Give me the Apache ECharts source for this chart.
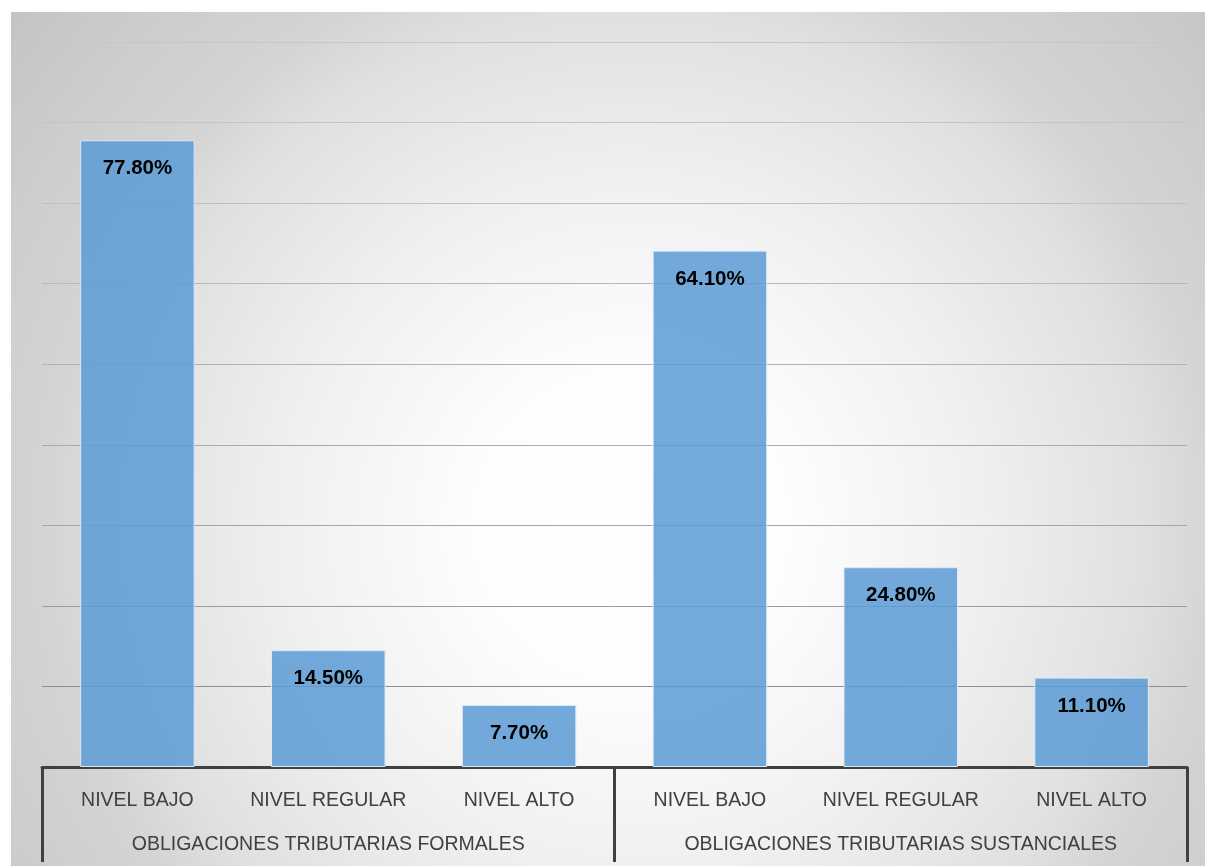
<!DOCTYPE html>
<html><head><meta charset="utf-8">
<script src="https://cdn.jsdelivr.net/npm/echarts@6/dist/echarts.min.js"></script>
<style>
html,body{margin:0;padding:0;background:#fff;width:1205px;height:866px;overflow:hidden}
#c{position:absolute;left:11px;top:12px;width:1194px;height:854px}
</style></head>
<body><div id="c"></div>
<script>
const categories = ['NIVEL BAJO','NIVEL REGULAR','NIVEL ALTO','NIVEL BAJO','NIVEL REGULAR','NIVEL ALTO'];
const groups = ['OBLIGACIONES TRIBUTARIAS FORMALES','OBLIGACIONES TRIBUTARIAS SUSTANCIALES'];
const values = [77.8, 14.5, 7.7, 64.1, 24.8, 11.1];

const chart = echarts.init(document.getElementById('c'));
const font = '"Liberation Sans", Arial, sans-serif';
chart.setOption({
  animation: false,
  backgroundColor: {
    type: 'radial', x: 0.52, y: 0.6, r: 0.94,
    colorStops: [
      {offset: 0, color: '#ffffff'}, {offset: 0.2, color: '#fdfdfd'},
      {offset: 0.43, color: '#f0f0f0'}, {offset: 0.64, color: '#e0e0e0'},
      {offset: 0.73, color: '#d4d4d4'}, {offset: 0.86, color: '#cdcdcd'},
      {offset: 1, color: '#c4c4c4'}
    ]
  },
  grid: {left: 31, right: 18, top: 30, bottom: 99},
  xAxis: [{
    type: 'category', data: categories, position: 'bottom',
    axisLine: {show: true, lineStyle: {color: '#404040', width: 3}},
    axisTick: {show: false},
    axisLabel: {interval: 0, color: '#404040', fontSize: 19.5, fontFamily: font, margin: 24}
  }, {
    type: 'category', data: groups, position: 'bottom',
    axisLine: {show: false},
    axisTick: {show: true, interval: 0, length: 95, lineStyle: {color: '#404040', width: 3}},
    axisLabel: {interval: 0, color: '#404040', fontSize: 19.5, fontFamily: font, margin: 68}
  }],
  yAxis: {
    type: 'value', min: 0, max: 90, interval: 10,
    axisLine: {show: false}, axisTick: {show: false}, axisLabel: {show: false},
    splitLine: {lineStyle: {
      color: ['#888888','#8e8e8e','#9c9c9c','#a6a6a6','#aaaaaa','#b2b2b2','#b8b8b8','#c0c0c0','#c4c4c4','#c6c6c6'],
      width: 1
    }}
  },
  series: [{
    type: 'bar', data: values, xAxisIndex: 0, barWidth: '60%',
    itemStyle: {color: 'rgba(91,155,213,0.85)', borderColor: '#dde9f5', borderWidth: 1},
    label: {
      show: true, position: 'insideTop', distance: 18,
      formatter: p => p.value.toFixed(2) + '%',
      color: '#000', fontWeight: 'bold', fontSize: 20.5, fontFamily: font
    }
  }]
});
</script></body></html>
